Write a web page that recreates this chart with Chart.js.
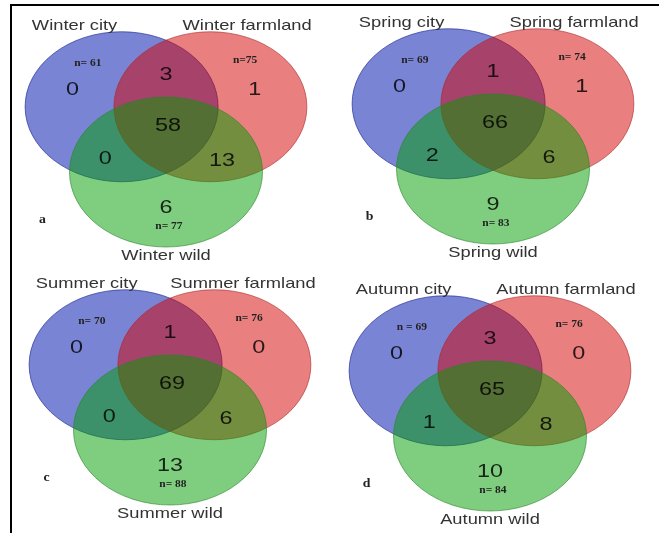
<!DOCTYPE html>
<html>
<head>
<meta charset="utf-8">
<script src="https://cdn.jsdelivr.net/npm/chart.js@4/dist/chart.umd.min.js"></script>
<style>
  body { margin: 0; background: #fff; }
  #frame { position: absolute; left: 10px; top: 4px; width: 649px; height: 529px;
           border-top: 2px solid #000; border-left: 2px solid #000; }
  canvas { position: absolute; }
</style>
</head>
<body>
<div id="frame"></div>
<canvas id="panelA" width="318" height="260" style="left:12px;top:6px"></canvas>
<canvas id="panelB" width="324" height="260" style="left:330px;top:6px"></canvas>
<canvas id="panelC" width="318" height="267" style="left:12px;top:266px"></canvas>
<canvas id="panelD" width="324" height="267" style="left:330px;top:266px"></canvas>
<script>
// seasons and habitats
var seasons = ['Winter', 'Spring', 'Summer', 'Autumn'];
var panelLetters = ['a', 'b', 'c', 'd'];
var habitats = ['city', 'farmland', 'wild'];

// species counts per Venn region, one value per season
var cityOnly = [0, 0, 0, 0];
var farmOnly = [1, 1, 0, 0];
var wildOnly = [6, 9, 13, 10];
var cityFarm = [3, 1, 1, 3];
var cityWild = [0, 2, 0, 1];
var farmWild = [13, 6, 6, 8];
var allThree = [58, 66, 69, 65];

// totals per habitat
var nCity = [61, 69, 70, 69];
var nFarm = [75, 74, 76, 76];
var nWild = [77, 83, 88, 84];
var nCityPrefix = ['n= ', 'n= ', 'n= ', 'n = '];
var nFarmPrefix = ['n=', 'n= ', 'n= ', 'n= '];

// venn layout in circle-radius units (origin = centre of the wild circle)
var circleCentres = [{x: -0.46, y: 0.87}, {x: 0.46, y: 0.87}, {x: 0, y: 0}];
var regionSpots = [
  {x: -0.97, y: 1.09}, {x: 0.92, y: 1.09}, {x: 0.0, y: -0.48},
  {x: 0.0, y: 1.29}, {x: -0.63, y: 0.17}, {x: 0.58, y: 0.15}, {x: 0.02, y: 0.61}
];
var fills = ['rgba(0,20,172,0.52)', 'rgba(212,0,0,0.5)', 'rgba(0,158,0,0.5)'];
var edges = ['rgba(40,50,150,0.7)', 'rgba(170,40,40,0.6)', 'rgba(40,130,40,0.6)'];

var pxX = 96.5, pxY = 75;   // pixels per unit
var panels = [
  {id: 'panelA', gx: 154, gy: 166},
  {id: 'panelB', gx: 163, gy: 163},
  {id: 'panelC', gx: 158, gy: 164},
  {id: 'panelD', gx: 160, gy: 170}
];

function drawText(ctx, txt, x, y, font, align, sx) {
  ctx.save();
  ctx.translate(x, y);
  ctx.scale(sx, 1);
  ctx.font = font;
  ctx.textAlign = align;
  ctx.textBaseline = 'middle';
  ctx.fillText(txt, 0, 0);
  ctx.restore();
}

var vennPlugin = {
  id: 'venn',
  beforeDatasetsDraw: function(chart) {
    var ctx = chart.ctx, xs = chart.scales.x, ys = chart.scales.y;
    var rx = Math.abs(xs.getPixelForValue(1) - xs.getPixelForValue(0));
    var ry = Math.abs(ys.getPixelForValue(1) - ys.getPixelForValue(0));
    chart.getDatasetMeta(0).data.forEach(function(pt, i) {
      ctx.save();
      ctx.beginPath();
      ctx.ellipse(pt.x, pt.y, rx, ry, 0, 0, Math.PI * 2);
      ctx.fillStyle = fills[i];
      ctx.fill();
      ctx.lineWidth = 1;
      ctx.strokeStyle = edges[i];
      ctx.stroke();
      ctx.restore();
    });
  },
  afterDatasetsDraw: function(chart) {
    var ctx = chart.ctx, xs = chart.scales.x, ys = chart.scales.y;
    var s = chart.options.plugins.venn.season;
    var counts = chart.data.datasets[1].counts;
    ctx.fillStyle = 'rgba(0,0,0,0.82)';
    chart.getDatasetMeta(1).data.forEach(function(pt, i) {
      drawText(ctx, String(counts[i]), pt.x, pt.y, '18px "Liberation Sans", Arial', 'center', 1.3);
    });
    function X(v) { return xs.getPixelForValue(v); }
    function Y(v) { return ys.getPixelForValue(v); }
    ctx.fillStyle = '#333';
    var tf = '15px "Liberation Sans", Arial';
    drawText(ctx, seasons[s] + ' ' + habitats[0], X(-1.39), Y(1.95), tf, 'left', 1.22);
    drawText(ctx, seasons[s] + ' ' + habitats[1], X(1.51), Y(1.95), tf, 'right', 1.22);
    drawText(ctx, seasons[s] + ' ' + habitats[2], X(0), Y(-1.12), tf, 'center', 1.22);
    ctx.fillStyle = '#222';
    var nf = 'bold 10px "Liberation Serif", "Times New Roman"';
    drawText(ctx, nCityPrefix[s] + nCity[s], X(-0.81), Y(1.45), nf, 'center', 1.15);
    drawText(ctx, nFarmPrefix[s] + nFarm[s], X(0.82), Y(1.49), nf, 'center', 1.15);
    drawText(ctx, 'n= ' + nWild[s], X(0.03), Y(-0.72), nf, 'center', 1.15);
    drawText(ctx, panelLetters[s], X(-1.28), Y(-0.64), 'bold 12px "Liberation Serif", "Times New Roman"', 'center', 1.15);
  }
};

panels.forEach(function(p, s) {
  var cv = document.getElementById(p.id);
  var xmin = -p.gx / pxX, ymax = p.gy / pxY;
  new Chart(cv.getContext('2d'), {
    type: 'scatter',
    data: {
      datasets: [{
        data: circleCentres,
        pointRadius: 0
      }, {
        data: regionSpots,
        counts: [cityOnly[s], farmOnly[s], wildOnly[s], cityFarm[s], cityWild[s], farmWild[s], allThree[s]],
        pointRadius: 0
      }]
    },
    options: {
      responsive: false,
      animation: false,
      layout: { padding: 0 },
      scales: {
        x: { type: 'linear', display: false, min: xmin, max: xmin + cv.width / pxX },
        y: { type: 'linear', display: false, min: ymax - cv.height / pxY, max: ymax }
      },
      plugins: {
        legend: { display: false },
        tooltip: { enabled: false },
        venn: { season: s }
      }
    },
    plugins: [vennPlugin]
  });
});
</script>
</body>
</html>
